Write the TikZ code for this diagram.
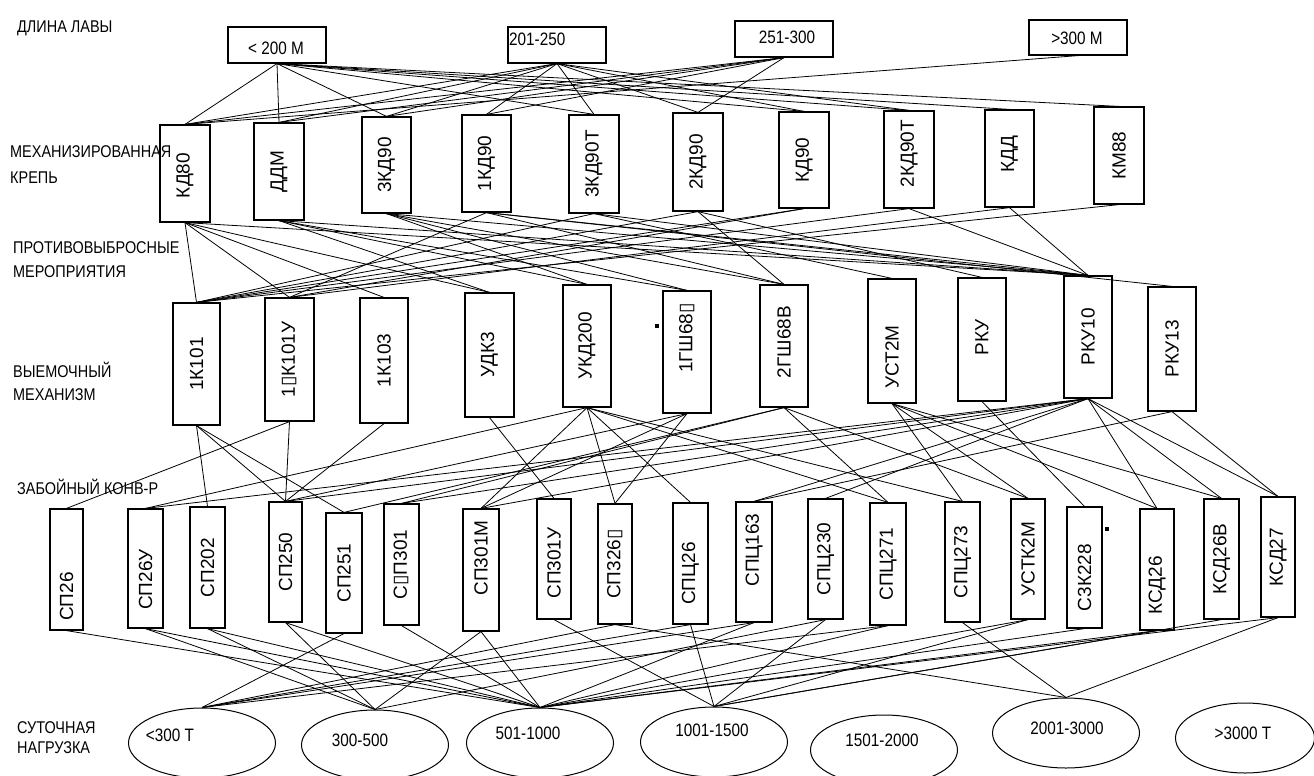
\documentclass[tikz,border=0pt]{standalone}
\usepackage{fontspec}
\usepackage{graphicx}
\usetikzlibrary{shapes.geometric}
\setmainfont{Liberation Sans}
\newfontfamily\narrowf[FakeStretch=0.85]{Liberation Sans}
\newfontfamily\dvsf{DejaVu Sans}
\newcommand\nd{{\dvsf ▯}}
\tikzset{
 hb/.style={draw, line width=1.2pt, minimum width=98pt, minimum height=36pt, inner sep=0pt},
 vb/.style={draw, line width=1.2pt, inner sep=0pt},
 vt/.style={rotate=90, inner sep=0pt, font=\fontsize{19}{19}\selectfont},
 ht/.style={inner sep=0pt, font=\narrowf\fontsize{18}{18}\selectfont},
 el/.style={draw, ellipse, line width=1pt, minimum width=147pt, minimum height=70pt, inner sep=0pt},
 lb/.style={anchor=west, inner sep=0pt, font=\narrowf\fontsize{17}{17}\selectfont},
 cn/.style={line width=0.8pt},
 mk/.style={fill=black, minimum size=4pt, inner sep=0pt},
}
\newcommand\vbx[7]{\node[vb, minimum width=#4pt, minimum height=#5pt] (#1) at (#2,#3) {};
 \node[vt] (#1t) at (#2,#3+#6) {#7};}
\newcommand\fan[2]{\foreach \tg in {#2} {\draw[cn] (#1.south) -- (\tg.north);}}
\begin{document}
\begin{tikzpicture}[x=1pt,y=-1pt]
\useasboundingbox (0,0) rectangle (1314,776);
% left labels
\node[lb] (l1) at (17,28) {ДЛИНА ЛАВЫ};
\node[lb] (l2a) at (10,152) {МЕХАНИЗИРОВАННАЯ};
\node[lb] (l2b) at (10,178) {КРЕПЬ};
\node[lb] (l3a) at (13,248) {ПРОТИВОВЫБРОСНЫЕ};
\node[lb] (l3b) at (13,272) {МЕРОПРИЯТИЯ};
\node[lb] (l4a) at (13,370) {ВЫЕМОЧНЫЙ};
\node[lb] (l4b) at (13,395) {МЕХАНИЗМ};
\node[lb] (l5) at (17,487) {ЗАБОЙНЫЙ КОНВ-Р};
\node[lb] (l6a) at (17,728) {СУТОЧНАЯ};
\node[lb] (l6b) at (17,748) {НАГРУЗКА};
% row 1
\node[hb] (a1) at (277,45) {};
\node[ht] (a1t) at (276,48) {< 200 М};
\node[hb] (a2) at (557,45) {};
\node[ht, anchor=west] (a2t) at (509,39) {201-250};
\node[hb] (a3) at (784,39) {};
\node[ht] (a3t) at (787,37) {251-300};
\node[hb, minimum height=35pt] (a4) at (1078,37.5) {};
\node[ht] (a4t) at (1077,38) {>300 М};
% row 2
\vbx{b1}{185}{173.5}{50}{97}{2}{КД80}
\vbx{b2}{279}{171.5}{50}{97}{0}{ДДМ}
\vbx{b3}{386.5}{165}{49}{96}{0}{3КД90}
\vbx{b4}{486.5}{163.5}{49}{97}{0}{1КД90}
\vbx{b5}{594}{164}{50}{98}{0}{3КД90Т}
\vbx{b6}{698}{162}{50}{98}{0}{2КД90}
\vbx{b7}{804}{160}{50}{96}{0}{КД90}
\vbx{b8}{909}{159.5}{50}{97}{-6}{2КД90Т}
\vbx{b9}{1009.5}{158.5}{49}{97}{-4}{КДД}
\vbx{b10}{1119}{155.5}{50}{97}{0}{КМ88}
% row 3
\vbx{c1}{196.5}{364}{47}{122}{0}{1К101}
\vbx{c2}{289.5}{359.5}{49}{123}{0}{1\nd К101У}
\vbx{c3}{384}{360.5}{48}{125}{0}{1К103}
\vbx{c4}{489.5}{355}{49}{124}{0}{УДК3}
\vbx{c5}{587}{346}{48}{122}{0}{УКД200}
\vbx{c6}{687}{352}{48}{122}{-14}{1ГШ68\nd}
\vbx{c7}{784}{346}{48}{122}{-4}{2ГШ68В}
\vbx{c8}{892}{341}{48}{124}{16}{УСТ2М}
\vbx{c9}{982}{339.5}{48}{123}{-2}{РКУ}
\vbx{c10}{1088}{337}{48}{122}{0}{РКУ10}
\vbx{c11}{1172}{349}{48}{124}{0}{РКУ13}
% row 4
\vbx{d1}{66.5}{569.5}{33}{121}{27}{СП26}
\vbx{d2}{145.5}{568.5}{35}{119}{11}{СП26У}
\vbx{d3}{207.5}{567.5}{35}{121}{0}{СП202}
\vbx{d4}{285.5}{562}{33}{120}{0}{СП250}
\vbx{d5}{344}{573}{36}{120}{0}{СП251}
\vbx{d6}{401.5}{564.5}{35}{121}{0}{С\nd П301}
\vbx{d7}{481}{570}{36}{122}{-12}{СП301М}
\vbx{d8}{554}{559}{34}{120}{4}{СП301У}
\vbx{d9}{615}{564}{34}{120}{0}{СП326\nd}
\vbx{d10}{690.5}{563.5}{35}{121}{10}{СПЦ26}
\vbx{d11}{754}{562}{36}{120}{-12}{СПЦ163}
\vbx{d12}{825.5}{559}{35}{120}{0}{СПЦ230}
\vbx{d13}{888}{564}{36}{122}{0}{СПЦ271}
\vbx{d14}{962.5}{562}{35}{120}{0}{СПЦ273}
\vbx{d15}{1028}{559}{34}{120}{0}{УСТК2М}
\vbx{d16}{1084.5}{567.5}{35}{121}{10}{С3К228}
\vbx{d17}{1157}{569.5}{34}{121}{16}{КСД26}
\vbx{d18}{1221.5}{559}{35}{120}{0}{КСД26В}
\vbx{d19}{1278}{557}{34}{120}{0}{КСД27}
% marks
\node[mk] (m1) at (657,326) {};
\node[mk] (m2) at (1107,529) {};
% row 5
\node[el] (e1) at (202,743) {};
\node[ht] (e1t) at (170,735) {<300 Т};
\node[el] (e2) at (375,745) {};
\node[ht] (e2t) at (360,740) {300-500};
\node[el] (e3) at (540,743) {};
\node[ht] (e3t) at (528,733) {501-1000};
\node[el] (e4) at (714,742) {};
\node[ht] (e4t) at (712,730) {1001-1500};
\node[el] (e5) at (884,750) {};
\node[ht] (e5t) at (882,740) {1501-2000};
\node[el] (e6) at (1066,733) {};
\node[ht] (e6t) at (1067,728) {2001-3000};
\node[el, minimum width=139pt] (e7) at (1245,738) {};
\node[ht] (e7t) at (1243,733) {>3000 Т};
% band 1
\fan{a1}{b1,b2,b3,b5,b7,b8,b9,b10}
\fan{a2}{b1,b2,b3,b4,b5,b6,b7,b8}
\fan{a3}{b1,b2,b3,b4,b6}
\fan{a4}{b1}
% band 2
\fan{b1}{c1,c2,c3,c4,c10}
\fan{b2}{c4,c5,c6,c10}
\fan{b3}{c5,c6,c7,c10}
\fan{b4}{c2,c7,c10,c11}
\fan{b5}{c1,c8,c10}
\fan{b6}{c1,c7,c9}
\fan{b7}{c1,c2}
\fan{b8}{c1,c10}
\fan{b9}{c2,c10}
\fan{b10}{c1}
% band 3
\fan{c1}{d3,d4,d5}
\fan{c2}{d1,d4}
\fan{c3}{d4}
\fan{c4}{d8}
\fan{c5}{d2,d7,d9,d10,d13,d14}
\fan{c6}{d4,d7,d9}
\fan{c7}{d5,d6,d13,d15}
\fan{c8}{d14,d15,d17,d18}
\fan{c9}{d16}
\fan{c10}{d2,d4,d6,d7,d11,d12,d17,d18,d19}
\fan{c11}{d11,d19}
% band 4
\fan{d1}{e3}
\fan{d2}{e2,e3}
\fan{d3}{e2,e3}
\fan{d4}{e2,e3}
\fan{d5}{e1}
\fan{d6}{e3}
\fan{d7}{e2,e3}
\fan{d8}{e4}
\fan{d9}{e1,e6}
\fan{d10}{e1,e4}
\fan{d11}{e1,e3}
\fan{d12}{e2,e4}
\fan{d13}{e1,e3}
\fan{d14}{e6}
\fan{d15}{e3,e4}
\fan{d16}{e3}
\fan{d17}{e3,e4}
\fan{d18}{e4}
\fan{d19}{e3,e6}
\end{tikzpicture}
\end{document}
